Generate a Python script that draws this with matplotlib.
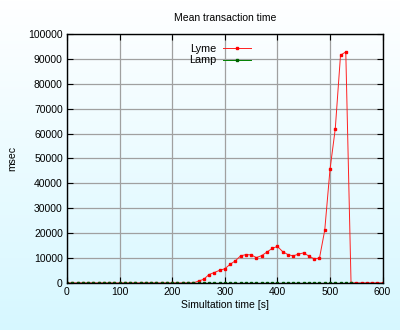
#!/usr/bin/env python3

import numpy as np
import matplotlib
matplotlib.use("Agg")
from matplotlib import pyplot as plt

# time axis, every 10 s
lyme_t = list(range(0, 610, 10))
lyme_ms = [0] * 25 + [
    800, 1500, 3400, 4200, 5100, 5700, 7500, 8900, 10900, 11400,
    11300, 10200, 11000, 12400, 13900, 14700, 12600, 11400, 10900, 11600,
    12100, 10800, 9700, 10000, 21200, 45600, 61900, 91500, 92800, 0,
    0, 0, 0, 0, 0, 0,
]
lamp_t = list(range(0, 550, 10))
lamp_ms = [0] * len(lamp_t)

x_ticks = [0, 100, 200, 300, 400, 500, 600]
y_ticks = list(range(0, 100001, 10000))


def main():
    plt.rcParams['font.family'] = ['Liberation Sans', 'DejaVu Sans']
    fig = plt.figure(figsize=(4.0, 3.3), dpi=100)

    # background gradient, white at top to pale cyan at the bottom
    bg = fig.add_axes([0, 0, 1, 1], zorder=-10)
    grad = np.linspace(0, 1, 256).reshape(-1, 1)
    top = np.array([1.0, 1.0, 1.0])
    bottom = np.array([0.84, 0.97, 1.0])
    img = top + (bottom - top) * grad[:, :, None]
    bg.imshow(img, aspect='auto', extent=[0, 1, 0, 1])
    bg.axis('off')

    ax = fig.add_axes([0.1675, 0.1424, 0.789, 0.7546])
    ax.patch.set_alpha(0)

    ax.plot(lyme_t, lyme_ms, color='#ff2020', lw=0.7, marker='s', ms=2.0,
            mec='#ff0000', mfc='#ff0000', label='Lyme')
    ax.plot(lamp_t, lamp_ms, color='#008000', lw=0.7, marker='s', ms=2.0,
            mec='#006000', mfc='#006000', label='Lamp')

    ax.set_xlim(0, 600)
    ax.set_ylim(0, 100000)
    ax.set_xticks(x_ticks)
    ax.set_yticks(y_ticks)
    ax.tick_params(direction='in', top=True, right=True, length=4,
                   width=0.8, labelsize=7.5, pad=3)
    ax.grid(True, color='#a0a0a0', lw=0.9)
    for s in ax.spines.values():
        s.set_linewidth(1.0)

    ax.set_title('Mean transaction time', fontsize=7.5, pad=9)
    ax.set_xlabel('Simultation time [s]', fontsize=7.5, labelpad=2)
    ax.set_ylabel('msec', fontsize=7.5, labelpad=8)

    leg = ax.legend(loc='upper center', bbox_to_anchor=(0.485, 1.0),
                    frameon=False, fontsize=7.8, markerfirst=False,
                    handlelength=2.6, handletextpad=0.6, labelspacing=0.15)
    for t in leg.get_texts():
        t.set_ha('right')

    fig.savefig('out.png', dpi=100)


if __name__ == "__main__":
    main()
